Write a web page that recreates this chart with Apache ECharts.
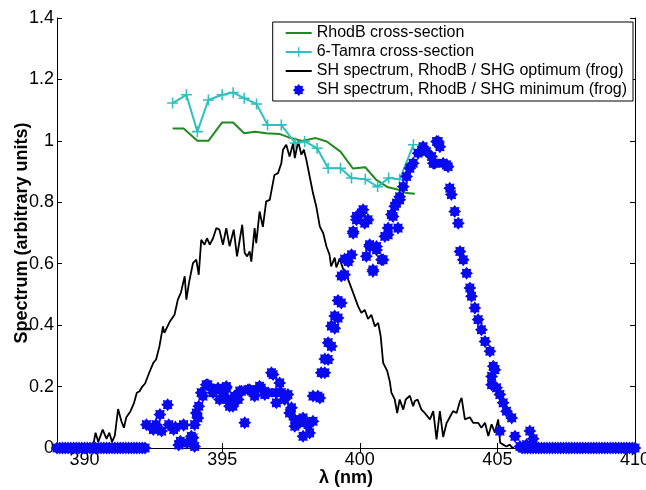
<!DOCTYPE html>
<html>
<head>
<meta charset="utf-8">
<script src="https://cdn.jsdelivr.net/npm/echarts@6/dist/echarts.min.js"></script>
<style>
  html, body { margin: 0; padding: 0; background: #fff; }
  #chart { width: 646px; height: 490px; }
</style>
</head>
<body>
<div id="chart"></div>
<script>
// tick values
const xTicks = [390, 395, 400, 405, 410];

// RhodB cross-section [nm, value]
const rhodB = [
  [393.2, 1.04], [393.6, 1.04], [394.1, 1.0], [394.5, 1.0], [395.0, 1.06], [395.4, 1.06],
  [395.8, 1.025], [396.2, 1.03], [396.6, 1.025], [397.1, 1.022], [397.4, 1.012], [397.9, 1.0],
  [398.4, 1.009], [398.8, 0.998], [399.3, 0.965], [399.75, 0.91], [400.2, 0.914], [400.6, 0.873],
  [401.0, 0.85], [401.45, 0.84], [401.7, 0.83], [402.0, 0.828]
];

// 6-Tamra cross-section
const tamra = [
  [393.2, 1.123], [393.7, 1.15], [394.1, 1.03], [394.5, 1.133], [395.0, 1.15], [395.4, 1.157],
  [395.8, 1.139], [396.25, 1.12], [396.65, 1.052], [397.15, 1.052], [397.65, 0.993], [398.0, 0.998],
  [398.45, 0.976], [398.85, 0.911], [399.3, 0.911], [399.7, 0.879], [400.2, 0.875], [400.65, 0.851],
  [401.05, 0.879], [401.45, 0.875], [401.95, 0.987]
];

// SH spectrum, SHG optimum
const shOptimum = [
  [389.0, 0], [390.3, 0], [390.4, 0.05], [390.5, 0.02], [390.66, 0.06], [390.8, 0.03], [390.9, 0.05],
  [391.0, 0.02], [391.1, 0.04], [391.22, 0.127], [391.34, 0.087], [391.43, 0.066], [391.52, 0.1],
  [391.67, 0.12], [391.8, 0.147], [391.9, 0.18], [392.0, 0.185], [392.1, 0.2], [392.2, 0.21],
  [392.35, 0.245], [392.5, 0.277], [392.6, 0.288], [392.72, 0.33], [392.85, 0.396], [392.9, 0.375],
  [393.09, 0.41], [393.27, 0.434], [393.39, 0.483], [393.5, 0.505], [393.64, 0.559], [393.7, 0.483],
  [393.8, 0.54], [393.94, 0.602], [394.06, 0.613], [394.15, 0.564], [394.24, 0.678], [394.36, 0.662],
  [394.45, 0.683], [394.55, 0.662], [394.67, 0.683], [394.79, 0.716], [394.9, 0.711], [395.03, 0.662],
  [395.15, 0.716], [395.27, 0.657], [395.42, 0.711], [395.54, 0.624], [395.64, 0.678], [395.73, 0.727],
  [395.82, 0.635], [395.91, 0.624], [396.0, 0.64], [396.06, 0.607], [396.18, 0.716], [396.24, 0.667],
  [396.36, 0.77], [396.48, 0.72], [396.6, 0.803], [396.73, 0.808], [396.9, 0.889], [397.03, 0.895],
  [397.15, 0.927], [397.21, 0.971], [397.33, 0.987], [397.45, 0.949], [397.58, 0.992], [397.64, 0.944],
  [397.76, 0.998], [397.88, 0.955], [397.97, 0.971], [398.06, 0.938], [398.18, 0.884], [398.3, 0.83],
  [398.42, 0.786], [398.55, 0.721], [398.67, 0.7], [398.79, 0.656], [398.9, 0.63], [398.96, 0.591],
  [399.09, 0.62], [399.15, 0.588], [399.27, 0.616], [399.39, 0.584], [399.58, 0.548], [399.76, 0.505],
  [399.94, 0.461], [400.06, 0.44], [400.18, 0.45], [400.3, 0.42], [400.42, 0.434], [400.55, 0.396],
  [400.67, 0.407], [400.76, 0.364], [400.85, 0.277], [401.0, 0.25], [401.09, 0.217], [401.15, 0.18],
  [401.27, 0.158], [401.36, 0.114], [401.45, 0.158], [401.58, 0.125], [401.67, 0.158], [401.82, 0.17],
  [401.94, 0.136], [402.0, 0.153], [402.1, 0.158], [402.24, 0.125], [402.36, 0.114], [402.55, 0.093],
  [402.67, 0.12], [402.79, 0.028], [402.91, 0.12], [403.03, 0.036], [403.15, 0.08], [403.27, 0.1],
  [403.39, 0.12], [403.52, 0.114], [403.64, 0.152], [403.7, 0.163], [403.82, 0.093], [404.0, 0.1],
  [404.12, 0.082], [404.3, 0.082], [404.42, 0.066], [404.55, 0.082], [404.67, 0.039], [404.79, 0.077],
  [404.91, 0.05], [405.03, 0.093], [405.1, 0.017], [405.21, 0.011], [405.33, 0.005], [405.45, 0.011],
  [405.52, 0.003], [405.6, 0]
];

// SH spectrum, SHG minimum: points lying on zero
const shMinZeroX = [
  389.0, 389.1, 389.2, 389.3, 389.4, 389.5, 389.6, 389.7, 389.8, 389.9, 390.0, 390.1, 390.2,
  390.3, 390.4, 390.5, 390.6, 390.7, 390.8, 390.9, 391.0, 391.1, 391.2, 391.3, 391.4, 391.5,
  391.6, 391.7, 391.8, 391.9, 392.0, 392.1, 392.2,
  405.9, 406.0, 406.1, 406.2, 406.3, 406.4, 406.5, 406.6, 406.7, 406.8, 406.9, 407.0, 407.1,
  407.2, 407.3, 407.4, 407.5, 407.6, 407.7, 407.8, 407.9, 408.0, 408.1, 408.2, 408.3, 408.4,
  408.5, 408.6, 408.7, 408.8, 408.9, 409.0, 409.1, 409.2, 409.3, 409.4, 409.5, 409.6, 409.7,
  409.8, 409.9, 410.0
];

// SH spectrum, SHG minimum: remaining points
const shMinimum = [
  [392.25, 0.076], [392.5, 0.06], [392.5, 0.068], [392.6, 0.076], [392.74, 0.109], [392.8, 0.055],
  [393.02, 0.141], [393.06, 0.076], [393.24, 0.06], [393.3, 0.068], [393.42, 0.01], [393.48, 0.022],
  [393.6, 0.076], [393.6, 0.074], [393.72, 0.016], [393.88, 0.038], [393.94, 0.033], [394.0, 0.076],
  [394.0, 0.005], [394.06, 0.114], [394.12, 0.098], [394.15, 0.136], [394.24, 0.18], [394.3, 0.169],
  [394.42, 0.206], [394.48, 0.206], [394.67, 0.19], [394.67, 0.18], [394.85, 0.195], [394.91, 0.158],
  [395.03, 0.18], [395.15, 0.2], [395.15, 0.195], [395.21, 0.158], [395.27, 0.136], [395.39, 0.136],
  [395.45, 0.169], [395.58, 0.158], [395.64, 0.185], [395.7, 0.185], [395.82, 0.082], [395.94, 0.19],
  [396.0, 0.19], [396.18, 0.185], [396.18, 0.169], [396.36, 0.201], [396.42, 0.195], [396.55, 0.174],
  [396.67, 0.18], [396.79, 0.245], [396.85, 0.239], [396.97, 0.147], [396.97, 0.18], [397.09, 0.212],
  [397.15, 0.18], [397.27, 0.158], [397.39, 0.174], [397.45, 0.114], [397.52, 0.131], [397.64, 0.093],
  [397.64, 0.071], [397.82, 0.082], [397.94, 0.038], [397.94, 0.098], [398.12, 0.076], [398.18, 0.049],
  [398.3, 0.087], [398.3, 0.169], [398.48, 0.169], [398.55, 0.163], [398.6, 0.245], [398.73, 0.29],
  [398.73, 0.245], [398.85, 0.343], [398.85, 0.288], [398.97, 0.331], [398.97, 0.397], [399.09, 0.39],
  [399.09, 0.43], [399.21, 0.423], [399.21, 0.48], [399.33, 0.472], [399.33, 0.56], [399.45, 0.564],
  [399.45, 0.615], [399.58, 0.607], [399.7, 0.629], [399.76, 0.699], [399.76, 0.705], [399.88, 0.743],
  [399.88, 0.754], [400.06, 0.765], [400.12, 0.776], [400.18, 0.732], [400.24, 0.624], [400.3, 0.743],
  [400.36, 0.662], [400.36, 0.656], [400.48, 0.58], [400.48, 0.575], [400.61, 0.656], [400.61, 0.645],
  [400.79, 0.613], [400.85, 0.613], [400.91, 0.689], [401.03, 0.716], [401.03, 0.694], [401.15, 0.76],
  [401.21, 0.754], [401.27, 0.787], [401.33, 0.797], [401.39, 0.716], [401.45, 0.808], [401.45, 0.818],
  [401.58, 0.851], [401.7, 0.884], [401.82, 0.911], [401.94, 0.927], [402.12, 0.96], [402.3, 0.981],
  [402.42, 0.965], [402.61, 0.949], [402.67, 0.927], [402.73, 0.927], [402.79, 0.998], [402.85, 0.998],
  [402.91, 0.981], [403.03, 0.927], [403.15, 0.922], [403.21, 0.916], [403.27, 0.846], [403.33, 0.825],
  [403.45, 0.77], [403.58, 0.732], [403.64, 0.64], [403.76, 0.613], [403.88, 0.569], [404.0, 0.521],
  [404.06, 0.494], [404.18, 0.456], [404.3, 0.418], [404.42, 0.385], [404.55, 0.347], [404.73, 0.315],
  [404.85, 0.266], [404.91, 0.255], [404.79, 0.233], [404.79, 0.206], [404.97, 0.196], [405.09, 0.174],
  [405.21, 0.147], [405.33, 0.12], [405.52, 0.098], [405.09, 0.055], [405.64, 0.038], [406.18, 0.055],
  [406.3, 0.03], [405.82, 0.005], [406.06, 0.011]
];

const starPath = 'path://M20,10L16.47,12.68L17.07,17.07L12.68,16.47L10,20L7.32,16.47L2.93,17.07L3.53,12.68L0,10L3.53,7.32L2.93,2.93L7.32,3.53L10,0L12.68,3.53L17.07,2.93L16.47,7.32Z';
const plusPath = 'path://M4.3,0H5.7V4.3H10V5.7H5.7V10H4.3V5.7H0V4.3H4.3Z';

const font = 'Liberation Sans, Arial, sans-serif';
const axisLine = { lineStyle: { color: '#000', width: 1 } };
const tickIn = { inside: true, length: 5, lineStyle: { color: '#000' } };

const chart = echarts.init(document.getElementById('chart'), null, { renderer: 'canvas' });

chart.setOption({
  animation: false,
  backgroundColor: '#fff',
  grid: { left: 57, right: 11, top: 18, bottom: 42, outerBoundsMode: 'none' },
  legend: {
    orient: 'vertical',
    right: 13,
    top: 22,
    padding: [3, 6, 3, 12],
    itemGap: 3,
    itemWidth: 26,
    itemHeight: 12,
    borderColor: '#000',
    borderWidth: 1,
    backgroundColor: '#fff',
    textStyle: { fontFamily: font, fontSize: 16, color: '#000' },
    data: [
      { name: 'RhodB cross-section', itemStyle: { opacity: 0 } },
      { name: '6-Tamra cross-section' },
      { name: 'SH spectrum, RhodB / SHG optimum (frog)', itemStyle: { opacity: 0 } },
      { name: 'SH spectrum, RhodB / SHG minimum (frog)' }
    ]
  },
  xAxis: [
    {
      type: 'value', min: 389, max: 410,
      name: 'λ (nm)', nameLocation: 'middle', nameGap: 21, nameMoveOverlap: false,
      nameTextStyle: { fontFamily: font, fontSize: 18, fontWeight: 'bold', color: '#000' },
      axisLine: axisLine,
      axisTick: Object.assign({ customValues: xTicks }, tickIn),
      axisLabel: { customValues: xTicks, fontFamily: font, fontSize: 18, color: '#000', margin: 3 },
      splitLine: { show: false }
    },
    {
      type: 'value', min: 389, max: 410, position: 'top',
      axisLine: axisLine,
      axisTick: Object.assign({ customValues: xTicks }, tickIn),
      axisLabel: { show: false },
      splitLine: { show: false }
    }
  ],
  yAxis: [
    {
      type: 'value', min: 0, max: 1.4, interval: 0.2,
      name: 'Spectrum (arbitrary units)', nameLocation: 'middle', nameGap: 26, nameMoveOverlap: false,
      nameTextStyle: { fontFamily: font, fontSize: 18, fontWeight: 'bold', color: '#000' },
      axisLine: axisLine,
      axisTick: tickIn,
      axisLabel: { fontFamily: font, fontSize: 18, color: '#000', margin: 3 },
      splitLine: { show: false }
    },
    {
      type: 'value', min: 0, max: 1.4, interval: 0.2, position: 'right',
      axisLine: axisLine,
      axisTick: tickIn,
      axisLabel: { show: false },
      splitLine: { show: false }
    }
  ],
  series: [
    {
      name: 'RhodB cross-section', type: 'line', data: rhodB,
      symbol: 'none', lineStyle: { color: '#1f8a1f', width: 2 }, itemStyle: { color: '#1f8a1f' }, z: 3
    },
    {
      name: '6-Tamra cross-section', type: 'line', data: tamra,
      symbol: plusPath, symbolSize: 11,
      lineStyle: { color: '#2fbfbf', width: 2 }, itemStyle: { color: '#2fbfbf' }, z: 4
    },
    {
      name: 'SH spectrum, RhodB / SHG optimum (frog)', type: 'line', data: shOptimum,
      symbol: 'none', lineStyle: { color: '#000', width: 1.8 }, itemStyle: { color: '#000' }, z: 2
    },
    {
      name: 'SH spectrum, RhodB / SHG minimum (frog)', type: 'scatter',
      data: shMinZeroX.map(x => [x, 0]).concat(shMinimum),
      symbol: starPath, symbolSize: 13,
      itemStyle: { color: '#0a0af0', opacity: 1 }, z: 5
    }
  ]
});
</script>
</body>
</html>
